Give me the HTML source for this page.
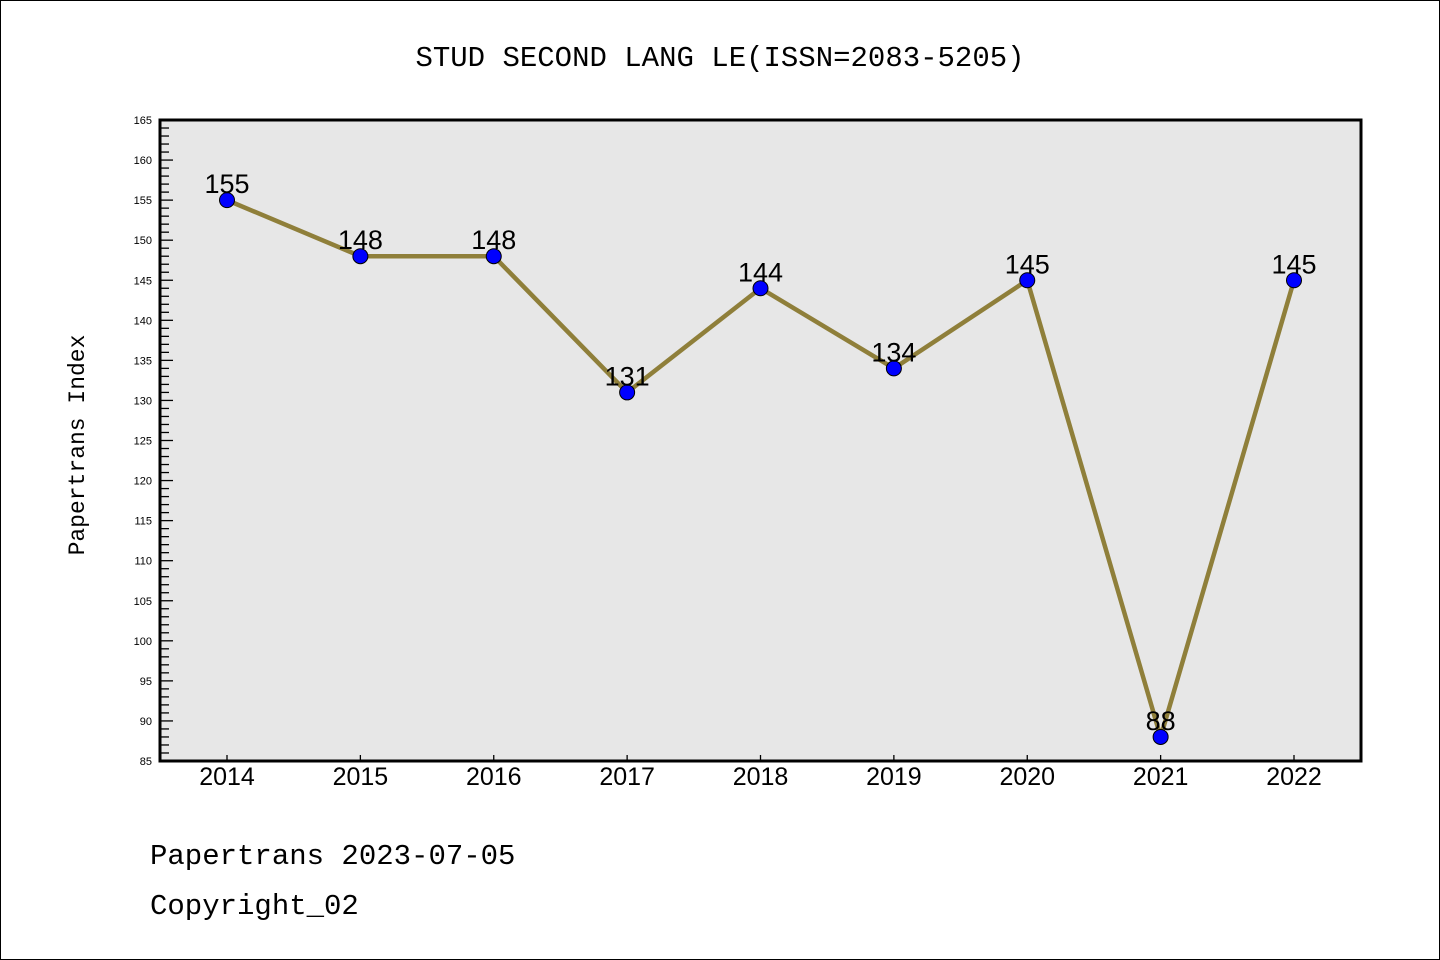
<!DOCTYPE html>
<html><head><meta charset="utf-8"><style>
body{margin:0;background:#fff}
svg{display:block;font-family:"Liberation Sans","DejaVu Sans",sans-serif}
.mono{font-family:"Liberation Mono","DejaVu Sans Mono",monospace}
</style></head><body>
<svg id="c" width="1440" height="960">
<rect x="0.5" y="0.5" width="1439" height="959" fill="#fff" stroke="#000"/>
<text x="720" y="66" text-anchor="middle" font-size="29" class="mono">STUD SECOND LANG LE(ISSN=2083-5205)</text>
<rect x="160" y="120" width="1201" height="641" fill="#e7e7e7"/>
<g id="yt"></g><g id="xt"></g><g id="series"></g>
<rect x="160" y="120" width="1201" height="641" fill="none" stroke="#000" stroke-width="3"/>
<text transform="translate(84,445) rotate(-90)" text-anchor="middle" font-size="23" class="mono">Papertrans Index</text>
<text x="150" y="864" font-size="29" class="mono">Papertrans 2023-07-05</text>
<text x="150" y="914" font-size="29" class="mono">Copyright_02</text>
</svg>
<script>
const years=["2014","2015","2016","2017","2018","2019","2020","2021","2022"];
const values=[155,148,148,131,144,134,145,88,145];
const yTicks=[85,90,95,100,105,110,115,120,125,130,135,140,145,150,155,160,165];
const NS="http://www.w3.org/2000/svg";
const x0=160,x1=1361,y0=120,y1=761,ymin=85,ymax=165;
const xs=i=>227+i*(1294-227)/(years.length-1);
const ys=v=>y1-(v-ymin)/(ymax-ymin)*(y1-y0);
function mk(t,a,p){const e=document.createElementNS(NS,t);for(const k in a)e.setAttribute(k,a[k]);p.appendChild(e);return e;}
const yt=document.getElementById('yt'),xt=document.getElementById('xt'),sg=document.getElementById('series');
for(let v=ymin;v<=ymax;v++){const l=mk('line',{x1:x0,x2:x0+(v%5===0?13:9),y1:ys(v),y2:ys(v),stroke:'#000','stroke-width':1.3},yt);
}
yTicks.forEach(v=>{const t=mk('text',{x:152,y:ys(v)+4,'text-anchor':'end','font-size':11},yt);t.textContent=v;
});
years.forEach((y,i)=>{const l=mk('line',{x1:xs(i),x2:xs(i),y1:y1,y2:y1-6,stroke:'#000','stroke-width':1.3},xt);

const t=mk('text',{x:xs(i),y:785,'text-anchor':'middle','font-size':25},xt);t.textContent=y;
});
const pl=mk('polyline',{points:values.map((v,i)=>xs(i)+','+ys(v)).join(' '),fill:'none',stroke:'#8f7f3a','stroke-width':4.5,'stroke-linejoin':'round'},sg);

values.forEach((v,i)=>{const c=mk('circle',{cx:xs(i),cy:ys(v),r:7.5,fill:'#0000ff',stroke:'#000','stroke-width':1},sg);

const t=mk('text',{x:xs(i),y:ys(v)-7,'text-anchor':'middle','font-size':27},sg);t.textContent=v;
});
</script>
</body></html>
